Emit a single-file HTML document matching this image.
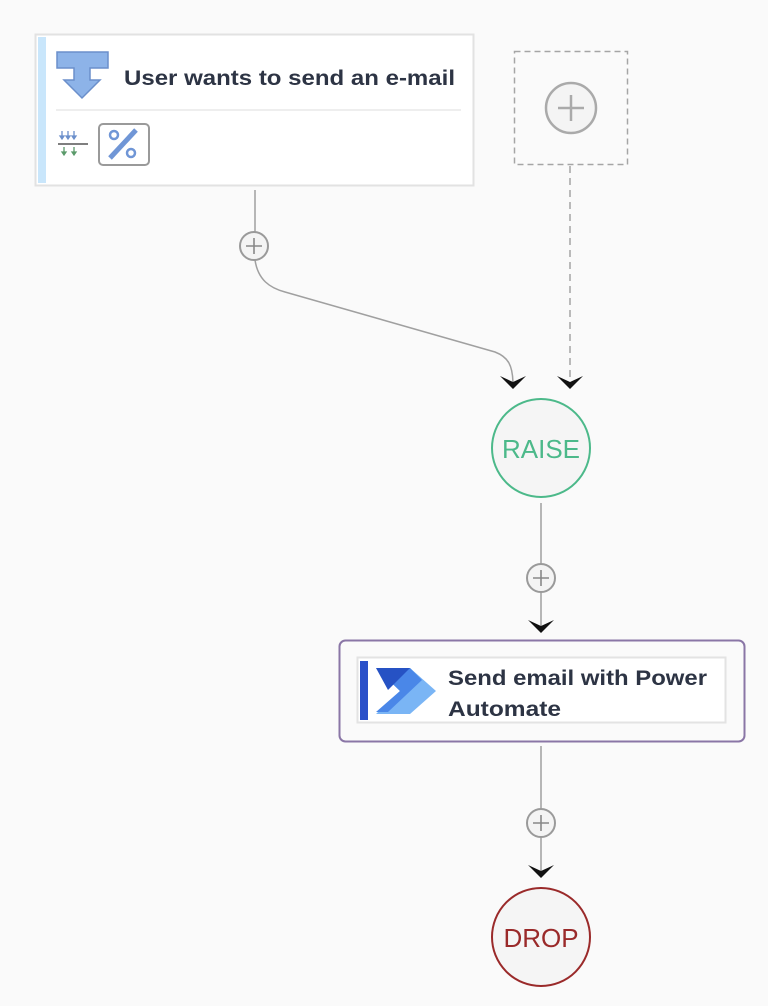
<!DOCTYPE html>
<html><head><style>
html,body{margin:0;padding:0;background:#fafafa;}
svg{display:block;}
text{font-family:"Liberation Sans","DejaVu Sans",sans-serif;}
</style></head><body>
<svg width="768" height="1006" viewBox="0 0 768 1006" xmlns="http://www.w3.org/2000/svg">
<rect width="768" height="1006" fill="#fafafa"/>
<defs>
<g id="plus"><circle r="14" fill="#f4f4f4" stroke="#9a9a9a" stroke-width="2"/><path d="M-8 0H8M0 -8V8" stroke="#888" stroke-width="1.6"/></g>
<path id="arr" d="M-13 -10 L0 3 L13 -10 L0 -4 Z" fill="#111"/>
</defs>
<!-- card 1 -->
<rect x="35.5" y="34.5" width="438" height="151" fill="#fff" stroke="#e2e2e2" stroke-width="2"/>
<rect x="38" y="37" width="8" height="146" fill="#c9e6fb"/>
<path d="M57 52H108V68H90V80H100L82 98L64 80H74V68H57Z" fill="#8db3e8" stroke="#6b8fcb" stroke-width="1.5"/>
<text x="124" y="85" font-size="21" font-weight="bold" fill="#2d3444" textLength="331" lengthAdjust="spacingAndGlyphs">User wants to send an e-mail</text>
<line x1="56" y1="110" x2="461" y2="110" stroke="#eeeeee" stroke-width="2"/>
<g stroke="#6b8fcb" stroke-width="1.3" fill="#6b8fcb"><path d="M62 131v7M68 131v7M74 131v7"/><path d="M60 136l2 3l2-3zM66 136l2 3l2-3zM72 136l2 3l2-3z"/></g>
<line x1="58" y1="144" x2="88" y2="144" stroke="#555" stroke-width="1.5"/>
<g stroke="#5a9a6a" stroke-width="1.3" fill="#5a9a6a"><path d="M64 147v7M74 147v7"/><path d="M62 152l2 3l2-3zM72 152l2 3l2-3z"/></g>
<rect x="99" y="124" width="50" height="41" rx="4" fill="#fff" stroke="#9a9a9a" stroke-width="2"/>
<line x1="110" y1="158" x2="136" y2="130" stroke="#7096d6" stroke-width="5"/>
<circle cx="114" cy="135" r="4" fill="none" stroke="#7096d6" stroke-width="2.5"/>
<circle cx="131" cy="153" r="4" fill="none" stroke="#7096d6" stroke-width="2.5"/>
<!-- dashed box -->
<rect x="514.5" y="51.5" width="113" height="113" fill="none" stroke="#a5a5a5" stroke-width="1.5" stroke-dasharray="6,4"/>
<circle cx="571" cy="108" r="25" fill="#f4f4f4" stroke="#aaa" stroke-width="2.5"/>
<path d="M558 108H584M571 95V121" stroke="#aaa" stroke-width="2.5"/>
<!-- connectors -->
<line x1="255" y1="190" x2="255" y2="232" stroke="#a0a0a0" stroke-width="1.5"/>
<path d="M255 260 C258 280 270 288 285 292 L495 352 C508 357 513 365 513 385" fill="none" stroke="#a0a0a0" stroke-width="1.5"/>
<use href="#plus" x="254" y="246"/>
<use href="#arr" x="513" y="386"/>
<line x1="570" y1="166" x2="570" y2="382" stroke="#a5a5a5" stroke-width="1.5" stroke-dasharray="7,5"/>
<use href="#arr" x="570" y="386"/>
<!-- RAISE -->
<circle cx="541" cy="448" r="49" fill="#f5f5f5" stroke="#4cb98a" stroke-width="2"/>
<text x="541" y="458" font-size="26" fill="#4cb98a" text-anchor="middle">RAISE</text>
<line x1="541" y1="503" x2="541" y2="628" stroke="#a0a0a0" stroke-width="1.5"/>
<use href="#plus" x="541" y="578"/>
<use href="#arr" x="541" y="630"/>
<!-- action box -->
<rect x="339.5" y="640.5" width="405" height="101" rx="6" fill="#fafafa" stroke="#8a76a6" stroke-width="2"/>
<rect x="357.5" y="657.5" width="368" height="65" fill="#fff" stroke="#e3e3e3" stroke-width="2"/>
<rect x="360" y="661" width="8" height="59" fill="#2a50c9"/>
<path d="M376 668H410L436 691L410 714H376L400 691Z" fill="#7ab5f5"/>
<path d="M376 668H410L422 680L388 712H376L400 691Z" fill="#4a87e8"/>
<path d="M376 668H410L388 690Z" fill="#2652c4"/>
<text x="448" y="685" font-size="21" font-weight="bold" fill="#2d3444" textLength="259" lengthAdjust="spacingAndGlyphs">Send email with Power</text>
<text x="448" y="716" font-size="21" font-weight="bold" fill="#2d3444" textLength="113" lengthAdjust="spacingAndGlyphs">Automate</text>
<line x1="541" y1="746" x2="541" y2="872" stroke="#a0a0a0" stroke-width="1.5"/>
<use href="#plus" x="541" y="823"/>
<use href="#arr" x="541" y="875"/>
<!-- DROP -->
<circle cx="541" cy="937" r="49" fill="#f5f5f5" stroke="#9a2a2a" stroke-width="2"/>
<text x="541" y="947" font-size="26" fill="#9a2a2a" text-anchor="middle">DROP</text>
</svg>
</body></html>
